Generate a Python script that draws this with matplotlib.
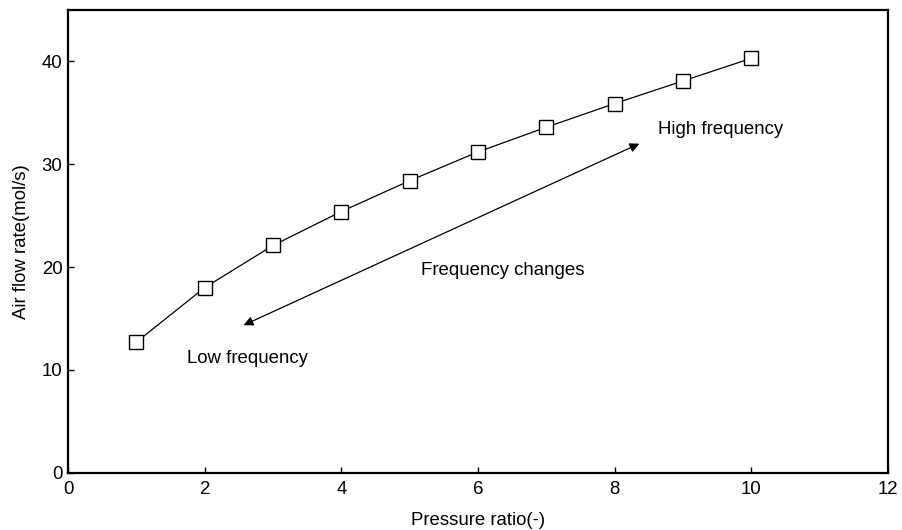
import matplotlib.pyplot as plt

plt.rcParams['font.family'] = ['Liberation Sans', 'DejaVu Sans']

# Data
pressure_ratio = [1, 2, 3, 4, 5, 6, 7, 8, 9, 10]
air_flow = [12.7, 18.0, 22.1, 25.4, 28.4, 31.2, 33.6, 35.9, 38.1, 40.3]

x_ticks = [0, 2, 4, 6, 8, 10, 12]
y_ticks = [0, 10, 20, 30, 40]

fs = 13.4

fig = plt.figure(figsize=(9.02, 5.30), dpi=100)
ax = fig.add_axes([68 / 902, 1 - 472.7 / 530, (888 - 68) / 902, (472.7 - 10) / 530])

ax.plot(pressure_ratio, air_flow, color='black', linewidth=0.9,
        marker='s', markersize=10, markerfacecolor='white',
        markeredgecolor='black', markeredgewidth=1.0)

# Double arrow showing the change of frequency
ax.annotate('', xy=(2.57, 14.35), xytext=(8.36, 32.0),
            arrowprops=dict(arrowstyle='<|-|>', color='black', lw=0.9,
                            mutation_scale=14, shrinkA=0, shrinkB=0))

ax.text(8.63, 33.4, 'High frequency', fontsize=fs, va='center', ha='left')
ax.text(5.16, 19.7, 'Frequency changes', fontsize=fs, va='center', ha='left')
ax.text(1.74, 11.15, 'Low frequency', fontsize=fs, va='center', ha='left')

ax.set_xlim(0, 12)
ax.set_ylim(0, 45)
ax.set_xticks(x_ticks)
ax.set_yticks(y_ticks)
ax.tick_params(direction='in', length=4, width=1, labelsize=fs)
ax.tick_params(axis='x', pad=6)
ax.tick_params(axis='y', pad=4)

for s in ax.spines.values():
    s.set_linewidth(1.6)

ax.set_xlabel('Pressure ratio(-)', fontsize=fs, labelpad=10)
ax.set_ylabel('Air flow rate(mol/s)', fontsize=fs, labelpad=8)

fig.savefig('out.png', dpi=100)
